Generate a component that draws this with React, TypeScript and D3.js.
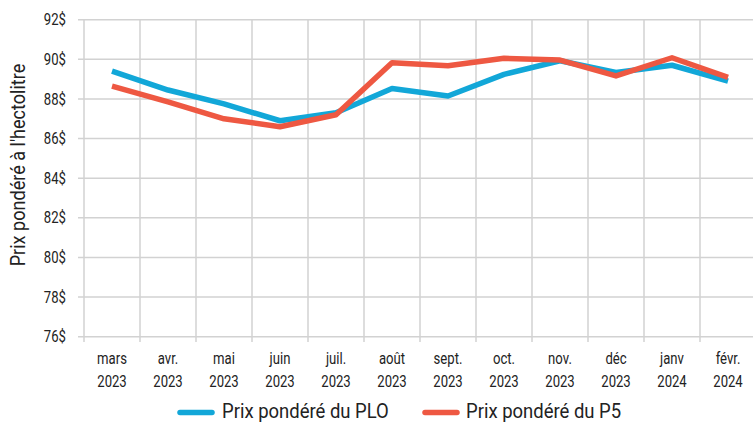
import React from "react";
import * as d3 from "d3";

const months = ["mars", "avr.", "mai", "juin", "juil.", "août", "sept.", "oct.", "nov.", "déc", "janv", "févr."];
const years = ["2023", "2023", "2023", "2023", "2023", "2023", "2023", "2023", "2023", "2023", "2024", "2024"];
const plo = [89.4, 88.45, 87.75, 86.9, 87.3, 88.53, 88.15, 89.24, 89.93, 89.34, 89.7, 88.9];
const p5 = [88.65, 87.85, 87.0, 86.6, 87.2, 89.83, 89.68, 90.05, 89.96, 89.16, 90.08, 89.09];
const yTicks = [76, 78, 80, 82, 84, 86, 88, 90, 92];
const seriesNames = ["Prix pondéré du PLO", "Prix pondéré du P5"];
const colors = ["#12a7d8", "#ee5842"];

const W = 753, H = 423;
const FONT = "Roboto, sans-serif";

function CText({ x, y, size, anchor = "start", rotate = 0, sx = 0.82, children }: any) {
  return (
    <text
      transform={`translate(${x},${y}) rotate(${rotate}) scale(${sx},1)`}
      dy="0.35em"
      textAnchor={anchor}
      fontSize={size}
      fill="#222"
    >
      {children}
    </text>
  );
}

export default function App() {
  const cats = months.map((m, i) => i);
  const x = d3.scaleBand<number>().domain(cats).range([84, 84 + 12 * 56]);
  const y = d3.scaleLinear().domain([76, 92]).range([336.7, 19.7]);
  const line = d3.line<number>().x((_, i) => (x(i) as number) + x.bandwidth() / 2).y(v => y(v));
  const grid = "#d2d2d2";
  return (
    <svg width={W} height={H} style={{ position: "absolute", left: 0, top: 0, background: "#fff" }} fontFamily={FONT}>
      {yTicks.map(t => (
        <g key={t}>
          <line x1={78} x2={W} y1={y(t)} y2={y(t)} stroke={grid} strokeWidth={1.5} />
          <CText x={66} y={y(t)} size={16} anchor="end">{t}$</CText>
        </g>
      ))}
      {cats.map(i => (
        <line key={i} x1={x(i) as number} x2={x(i) as number} y1={y(92)} y2={342} stroke={grid} strokeWidth={1.5} />
      ))}
      {cats.map(i => {
        const cx = (x(i) as number) + x.bandwidth() / 2;
        return (
          <g key={"l" + i}>
            <CText x={cx} y={358} size={16} anchor="middle">{months[i]}</CText>
            <CText x={cx} y={381} size={16} anchor="middle">{years[i]}</CText>
          </g>
        );
      })}
      {[plo, p5].map((s, k) => (
        <path key={k} d={line(s) || ""} fill="none" stroke={colors[k]} strokeWidth={5.5} strokeLinejoin="round" strokeLinecap="butt" />
      ))}
      <CText x={18} y={165} size={21} sx={0.86} anchor="middle" rotate={-90}>Prix pondéré à l'hectolitre</CText>
      <line x1={180} x2={212} y1={412.5} y2={412.5} stroke={colors[0]} strokeWidth={5.5} strokeLinecap="round" />
      <CText x={222} y={411} size={21} sx={0.88}>{seriesNames[0]}</CText>
      <line x1={425} x2={457} y1={412.5} y2={412.5} stroke={colors[1]} strokeWidth={5.5} strokeLinecap="round" />
      <CText x={466} y={411} size={21} sx={0.88}>{seriesNames[1]}</CText>
    </svg>
  );
}
